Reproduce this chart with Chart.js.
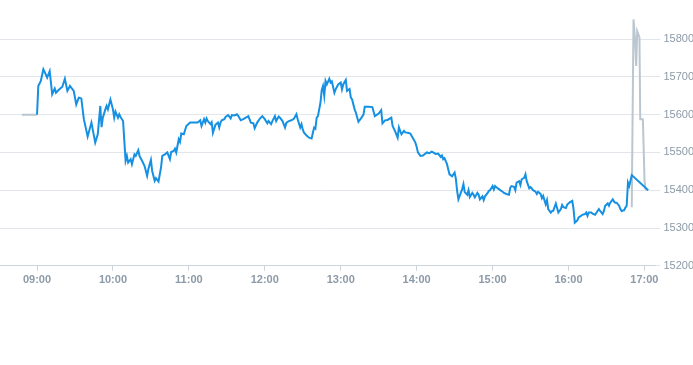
<!DOCTYPE html>
<html><head><meta charset="utf-8">
<script src="https://cdn.jsdelivr.net/npm/chart.js@4/dist/chart.umd.min.js"></script>
<style>html,body{margin:0;padding:0;background:#fff}#wrap{width:693px;height:365px}</style>
</head><body><div id="wrap"><canvas id="c" width="693" height="365"></canvas></div>
<script>
// minutes after 09:00
const mainMinutes = [0,1,3,5,6,8,10,12,14,15,17,20,22,24,26,29,31,33,35,37,40,43,46,48,50,51,52,54,55,56,58,60,61,62,64,65,66,68,69,70,71,72,74,75,77,78,80,81,83,85,87,88,90,91,93,94,96,98,99,101,103,105,106,108,109,110,112,113,114,116,118,121,124,127,129,130,132,133,134,135,137,138,139,141,143,144,145,146,148,149,151,153,154,156,158,159,161,163,165,167,169,171,172,174,176,178,180,182,183,185,186,188,189,191,192,194,196,197,199,201,203,205,206,208,209,210,211,213,215,217,218,219,220,221,222,224,225,226,227,228,229,231,232,233,235,236,238,240,241,242,244,245,247,248,249,251,252,254,256,258,259,262,265,267,270,272,273,275,277,280,281,283,285,286,288,290,291,293,295,297,299,300,301,303,305,308,310,312,315,317,319,320,321,322,324,325,326,328,330,331,332,333,334,336,337,338,340,341,342,344,345,346,348,349,350,352,353,354,356,357,358,360,361,362,363,365,366,368,369,371,373,374,375,377,378,379,381,382,383,385,386,387,389,390,391,392,394,395,396,398,399,400,402,403,404,406,407,408,410,411,412,414,415,416,418,419,420,421,423,424,425,427,428,429,431,433,434,435,436,438,439,441,443,444,445,447,448,449,451,452,453,455,456,457,458,460,461,462,464,465,466,467,468,469,470,483];
const mainValues = [15600,15676,15689,15720,15713,15698,15715,15654,15669,15658,15665,15674,15695,15663,15676,15663,15627,15645,15643,15588,15542,15579,15526,15548,15623,15567,15592,15614,15623,15614,15640,15614,15592,15608,15592,15601,15594,15583,15530,15478,15491,15473,15482,15469,15495,15491,15506,15491,15478,15464,15438,15456,15480,15451,15425,15432,15423,15460,15491,15495,15500,15482,15501,15504,15510,15500,15535,15528,15550,15548,15570,15579,15579,15579,15585,15570,15588,15579,15590,15583,15575,15580,15552,15573,15579,15566,15579,15585,15588,15594,15599,15590,15599,15598,15601,15597,15585,15588,15592,15596,15579,15577,15564,15579,15589,15596,15588,15577,15583,15575,15583,15596,15583,15595,15592,15583,15566,15578,15583,15585,15589,15601,15588,15566,15575,15561,15552,15545,15539,15537,15552,15566,15563,15592,15596,15632,15665,15676,15650,15689,15680,15695,15685,15688,15658,15667,15680,15685,15667,15680,15692,15663,15668,15645,15640,15614,15605,15581,15590,15600,15621,15621,15620,15596,15603,15612,15577,15585,15586,15592,15570,15556,15539,15566,15548,15557,15553,15552,15550,15538,15526,15515,15500,15491,15492,15500,15498,15502,15496,15497,15488,15492,15482,15485,15469,15455,15442,15437,15447,15430,15398,15376,15385,15403,15416,15395,15388,15400,15382,15393,15388,15381,15393,15388,15376,15384,15374,15384,15392,15398,15400,15411,15402,15411,15408,15403,15400,15396,15393,15390,15388,15407,15411,15409,15400,15420,15424,15414,15429,15433,15442,15424,15405,15408,15405,15400,15396,15390,15396,15390,15379,15385,15363,15374,15350,15341,15345,15346,15365,15353,15341,15350,15361,15355,15353,15362,15365,15368,15372,15350,15314,15320,15328,15330,15335,15337,15341,15332,15341,15341,15338,15335,15345,15350,15345,15337,15345,15359,15365,15359,15367,15376,15370,15367,15367,15359,15350,15345,15347,15354,15359,15420,15411,15425,15440,15400];
const preMinutes = [-12, 0];
const preValues = [15600, 15600];
const postMinutes = [470, 471.4, 472.7, 473.5, 474.3, 475.3, 476.1, 476.7, 478.8, 480.1, 480.9, 482.5];
const postValues = [15355, 15852, 15795, 15729, 15821, 15812, 15804, 15588, 15588, 15425, 15403, 15400];
const xTickMinutes = [0, 60, 120, 180, 240, 300, 360, 420, 480];
const xTickLabels = ['09:00','10:00','11:00','12:00','13:00','14:00','15:00','16:00','17:00'];
const yTickValues = [15200, 15300, 15400, 15500, 15600, 15700, 15800];

const toPts = (xs, ys) => xs.map((x, i) => ({x: x, y: ys[i]}));
const BLUE = '#1590e2', GRAY = '#bac6d0';
const FONT = "'Liberation Sans', Arial, Helvetica, sans-serif";

new Chart(document.getElementById('c'), {
  type: 'line',
  data: {
    datasets: [
      {data: toPts(mainMinutes, mainValues), borderColor: BLUE, borderWidth: 2, pointRadius: 0, tension: 0, fill: false},
      {data: toPts(preMinutes, preValues), borderColor: GRAY, borderWidth: 2, pointRadius: 0, tension: 0, fill: false},
      {data: toPts(postMinutes, postValues), borderColor: GRAY, borderWidth: 2, pointRadius: 0, tension: 0, fill: false}
    ]
  },
  options: {
    responsive: false,
    devicePixelRatio: 1,
    animation: false,
    layout: {padding: {bottom: 75, left: 0, right: -4, top: 0}},
    plugins: {legend: {display: false}, tooltip: {enabled: false}, title: {display: false}},
    scales: {
      x: {
        type: 'linear', position: 'bottom', min: -29.26, max: 488.7,
        afterBuildTicks: s => { s.ticks = xTickMinutes.map(v => ({value: v})); },
        ticks: {
          autoSkip: false, maxRotation: 0, padding: 3, color: '#8d9aa8',
          font: {family: FONT, size: 11, weight: 'bold'},
          callback: (v) => xTickLabels[xTickMinutes.indexOf(v)]
        },
        grid: {drawOnChartArea: false, drawTicks: true, tickLength: 5, color: '#ccd3da'},
        border: {display: true, color: '#ccd3da'}
      },
      y: {
        position: 'right', min: 15200, max: 15878,
        afterBuildTicks: s => { s.ticks = yTickValues.map(v => ({value: v})); },
        ticks: {padding: 3, color: '#8d9aa8', font: {family: FONT, size: 11}, callback: (v) => String(v)},
        grid: {color: '#e2e5e9', tickLength: 5},
        border: {display: false}
      }
    }
  }
});
</script></body></html>
